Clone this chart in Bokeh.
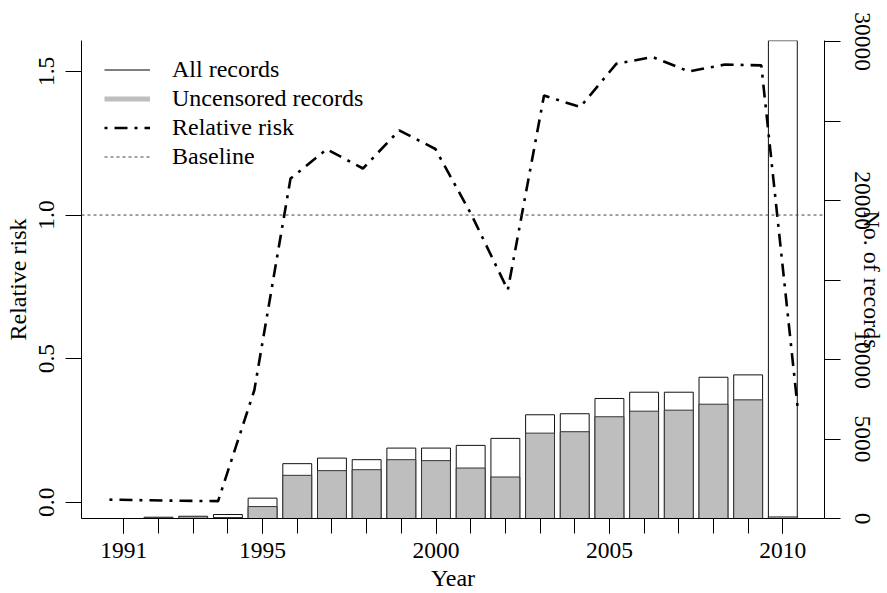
import math
from bokeh.plotting import figure
from bokeh.models import (Range1d, LinearAxis, FixedTicker, PrintfTickFormatter,
                          Span, Legend, LegendItem)
from bokeh.embed import file_html
from bokeh.resources import INLINE

# ---- data ----
years = [1991, 1992, 1993, 1994, 1995, 1996, 1997, 1998, 1999, 2000,
         2001, 2002, 2003, 2004, 2005, 2006, 2007, 2008, 2009, 2010]
all_records = [0, 80, 140, 250, 1280, 3450, 3800, 3700, 4430, 4430,
               4600, 5040, 6525, 6590, 7550, 7945, 7945, 8885, 9035, 30060]
uncensored_records = [0, 40, 30, 60, 750, 2715, 3010, 3070, 3700, 3640,
                      3175, 2610, 5370, 5460, 6400, 6750, 6815, 7190, 7465, 100]
relative_risk = [0.009, 0.007, 0.005, 0.004, 0.39, 1.127, 1.229, 1.162, 1.295, 1.23,
                 1.0, 0.739, 1.416, 1.376, 1.527, 1.550, 1.500, 1.524, 1.521, 0.334]
baseline = 1.0
year_tick_labels = [1991, 1995, 2000, 2005, 2010]
rr_ticks = [0.0, 0.5, 1.0, 1.5]
rec_ticks_labelled = [0, 5000, 10000, 20000, 30000]
rec_ticks_unlabelled = [15000, 25000]

FONT = "Liberation Serif"
FS = "23.5px"
NAN = float("nan")

W, H = 887, 593
BL, BR, BT, BB = 81, 62, 40, 74

XB0, XB1 = 1989.779, 2011.201      # bar scale (years)
XL0, XL1 = 1990.228, 2010.745      # line scale (years)
YL0, YL1 = -0.0566, 1.6077         # relative risk scale
YR0, YR1 = 0, 30070                # number of records scale

p = figure(width=W, height=H, output_backend="svg", toolbar_location=None,
           x_range=Range1d(XB0, XB1), y_range=Range1d(YL0, YL1),
           min_border_left=BL, min_border_right=BR, min_border_top=BT,
           min_border_bottom=BB)
p.extra_x_ranges = {"line": Range1d(XL0, XL1)}
p.extra_y_ranges = {"rec": Range1d(YR0, YR1)}
p.outline_line_color = None
p.xgrid.visible = False
p.ygrid.visible = False
p.background_fill_color = "white"
p.border_fill_color = "white"

# bars
p.vbar(x=years, top=all_records, bottom=0, width=0.833, y_range_name="rec",
       fill_color="white", line_color="#111111", line_width=1)
p.vbar(x=years, top=uncensored_records, bottom=0, width=0.833, y_range_name="rec",
       fill_color="#bebebe", line_color="#333333", line_width=1)

# baseline
p.add_layout(Span(location=baseline, dimension="width", line_color="#444444",
                  line_width=1, line_dash="3 3"))

# relative risk
rr_line = p.line(years, relative_risk, x_range_name="line", line_color="black",
                 line_width=2.6, line_dash="3 7 13 7")

# legend proxies (no visible marks)
px_all = p.line([NAN], [NAN], line_color="black", line_width=1)
px_unc = p.line([NAN], [NAN], line_color="#bebebe", line_width=5)
px_base = p.line([NAN], [NAN], line_color="#444444", line_width=1, line_dash="3 3")

legend = Legend(items=[
    LegendItem(label="All records", renderers=[px_all]),
    LegendItem(label="Uncensored records", renderers=[px_unc]),
    LegendItem(label="Relative risk", renderers=[rr_line]),
    LegendItem(label="Baseline", renderers=[px_base]),
], location=(23, 347), padding=0, spacing=0, margin=0,
    glyph_width=46, glyph_height=29, label_height=29, label_standoff=22,
    label_text_font=FONT, label_text_font_size="24px", label_text_color="black",
    border_line_color=None, background_fill_alpha=0)
p.add_layout(legend)

# axes
def style_axis(ax):
    ax.axis_line_color = "black"
    ax.axis_line_width = 1
    ax.major_tick_line_color = "black"
    ax.minor_tick_line_color = "black"
    ax.major_tick_in = 0
    ax.minor_tick_in = 0
    ax.major_label_text_font = FONT
    ax.major_label_text_font_size = FS
    ax.major_label_text_color = "black"
    ax.axis_label_text_font = FONT
    ax.axis_label_text_font_size = "24px"
    ax.axis_label_text_font_style = "normal"
    ax.axis_label_text_color = "black"

xa = p.xaxis[0]
style_axis(xa)
xa.ticker = FixedTicker(ticks=year_tick_labels, minor_ticks=years)
xa.major_tick_out = 15
xa.minor_tick_out = 15
xa.major_label_standoff = 9
xa.axis_label = "Year"
xa.axis_label_standoff = 4

ya = p.yaxis[0]
style_axis(ya)
ya.ticker = FixedTicker(ticks=rr_ticks)
ya.formatter = PrintfTickFormatter(format="%.1f")
ya.major_tick_out = 16
ya.major_label_orientation = "vertical"
ya.major_label_standoff = 11
ya.axis_label = "Relative risk"
ya.axis_label_standoff = 6

ra = LinearAxis(y_range_name="rec",
                ticker=FixedTicker(ticks=rec_ticks_labelled, minor_ticks=rec_ticks_unlabelled))
style_axis(ra)
ra.major_tick_out = 16
ra.minor_tick_out = 16
ra.major_label_orientation = "vertical"
ra.major_label_standoff = 14
ra.axis_label = "No. of records"
ra.axis_label_standoff = -14
p.add_layout(ra, "right")

open("out.html", "w").write(file_html(p, INLINE))
